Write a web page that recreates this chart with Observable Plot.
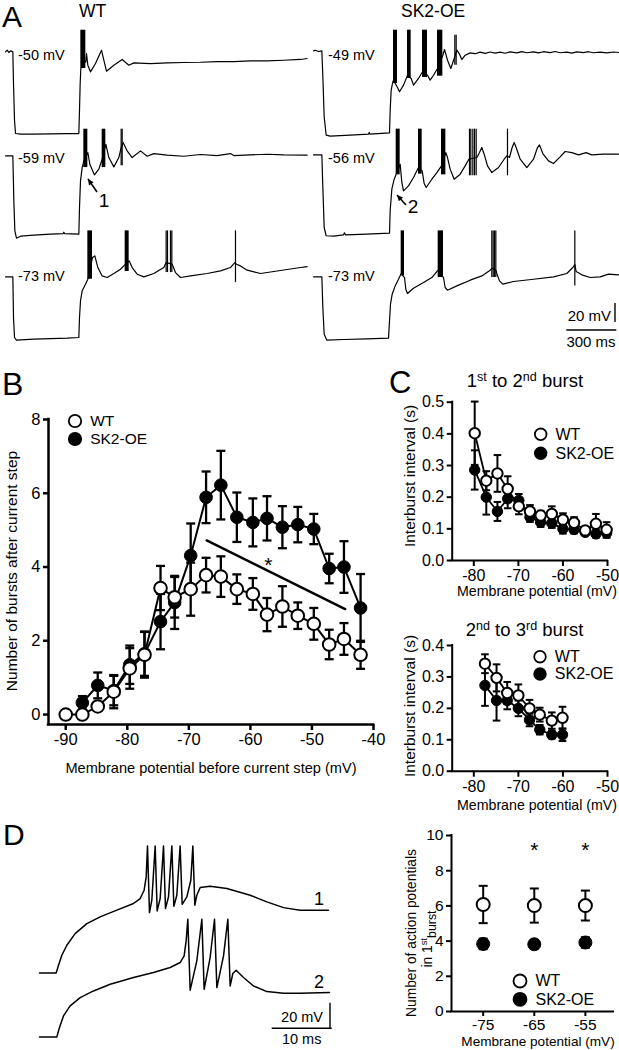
<!DOCTYPE html>
<html><head><meta charset="utf-8">
<script src="https://cdn.jsdelivr.net/npm/d3@7"></script>
<script src="https://cdn.jsdelivr.net/npm/@observablehq/plot@0.6"></script>
<style>
body{margin:0;background:#fff;}
#fig{position:relative;width:619px;height:1050px;background:#fff;font-family:"Liberation Sans",Arial,sans-serif;color:#000;overflow:hidden}
.t{position:absolute;white-space:nowrap;line-height:1;}
.t sup{font-size:0.68em;vertical-align:0.5em;line-height:0}
.t sub{font-size:0.9em;vertical-align:-0.3em;line-height:0}
.p{position:absolute}
</style></head><body><div id="fig"></div><script>
// ---------------- DATA ----------------
// Panel A traces: [time (ms), membrane potential (mV)]
const wt50Line = [[0,-50],[10,-48.2],[20,-50.7],[30,-49],[44,-50],[48,-83.3],[54,-121.8],[60,-135.8],[90,-136.5],[170,-136.5],[270,-136.1],[370,-135.8],[440,-135.8],[444,-111.3],[448,-83.3],[452,-67.5],[482,-60],[486,-51.8],[494,-64],[510,-71],[540,-62.3],[576,-48.3],[590,-58.8],[606,-70.3],[650,-64],[700,-58],[740,-64],[770,-61.6],[870,-62.3],[970,-61.6],[1070,-61.2],[1170,-60.9],[1270,-60.2],[1370,-60.2],[1470,-59.5],[1570,-59.5],[1670,-58.8],[1770,-58],[1810,-57]];
const wt50Bursts = [[452,482,-67.5,-27.3]];
const wt50Spikes = [];
const wt59Line = [[0,-59],[44,-59],[50,-106.3],[56,-137.8],[66,-145.5],[90,-143.4],[170,-142.3],[270,-141.3],[346,-140.6],[350,-139.2],[354,-140.6],[440,-141.3],[444,-113.3],[450,-85.3],[460,-71.3],[470,-64.3],[494,-55.5],[506,-67.8],[534,-79],[560,-73],[580,-62.5],[602,-46.8],[620,-60.8],[650,-70.6],[680,-60.8],[694,-50.3],[706,-45],[730,-53.8],[760,-60.8],[810,-53.8],[850,-59.4],[890,-56.6],[970,-58.3],[1070,-59.4],[1170,-57.6],[1270,-58.7],[1350,-56.6],[1370,-58.7],[1470,-58],[1570,-57.3],[1670,-58],[1810,-58.3]];
const wt59Bursts = [[470,494,-71.3,-31],[580,602,-71.3,-31]];
const wt59Spikes = [[694,-69.5,-31],[700,-69.5,-31]];
const wt73Line = [[0,-73],[44,-73],[48,-115.7],[54,-136.7],[66,-139.5],[170,-138.5],[270,-137.8],[370,-137.4],[440,-136.7],[444,-115.7],[450,-98.2],[460,-87.7],[480,-80.7],[494,-75.5],[522,-52.7],[536,-51],[554,-63.2],[580,-72],[610,-73.7],[650,-69.5],[690,-65],[720,-59.7],[742,-56.2],[760,-63.2],[790,-70.2],[830,-73],[890,-69.5],[950,-63.2],[964,-58],[1000,-59.7],[1020,-68.5],[1050,-73.7],[1110,-72],[1210,-69.5],[1290,-66.7],[1350,-63.2],[1376,-58],[1386,-59.7],[1410,-61.5],[1450,-66],[1530,-69.5],[1610,-67.4],[1690,-65.3],[1770,-63.2],[1810,-62.2]];
const wt73Bursts = [[494,522,-75.5,-24.7],[718,742,-67.4,-24.7]];
const wt73Spikes = [[964,-68.5,-24.7],[972,-68.5,-24.7],[990,-68.5,-24.7],[998,-68.5,-24.7],[1380,-79,-24.7]];
const sk49Line = [[0,-49],[10,-48.3],[30,-49.7],[50,-49],[56,-76.3],[64,-118.3],[76,-137.6],[100,-138.6],[220,-137.6],[330,-136.5],[334,-134.7],[338,-136.5],[456,-135.1],[460,-111.3],[466,-90.3],[476,-81.6],[480,-80],[504,-87.5],[516,-92],[540,-85],[564,-74.6],[586,-78],[600,-85],[630,-78],[654,-71],[684,-74.6],[700,-79.8],[720,-74.6],[744,-67.6],[776,-53.6],[786,-47.6],[804,-58.8],[824,-67.6],[844,-57],[860,-48.3],[876,-52.5],[890,-58.1],[910,-53.6],[940,-51.1],[970,-52],[1000,-50.4],[1030,-51.6],[1060,-50.2],[1090,-51.4],[1120,-50.4],[1150,-51.5],[1180,-50.1],[1220,-51.1],[1250,-49.8],[1280,-51],[1320,-50],[1350,-51.2],[1380,-49.9],[1420,-50.8],[1450,-49.7],[1480,-51],[1520,-50.4],[1550,-51.3],[1580,-50],[1620,-50.9],[1650,-49.9],[1680,-51],[1720,-50.4],[1760,-51.1],[1800,-50.2],[1830,-50.7]];
const sk49Bursts = [[480,504,-83.3,-27.3],[564,586,-78,-27.3],[654,684,-77,-27.3],[744,776,-75.6,-27.3]];
const sk49Spikes = [[848,-64,-32.5],[856,-64,-32.5]];
const sk56Line = [[0,-56],[50,-56],[56,-90.3],[64,-132.3],[76,-141],[120,-141.4],[180,-140],[186,-137.9],[192,-140],[320,-139.3],[456,-138.3],[460,-114.8],[470,-92],[484,-81.6],[496,-76.3],[520,-65.8],[530,-85],[540,-93.8],[570,-88.6],[600,-79.8],[630,-69.3],[652,-72.8],[664,-86.1],[676,-90.3],[710,-81.6],[740,-74.6],[768,-67.6],[794,-53.6],[804,-58.8],[820,-71],[844,-81.6],[880,-76.3],[910,-67.6],[932,-60.6],[980,-58.8],[996,-53.6],[1010,-48.3],[1024,-55.3],[1044,-67.6],[1070,-74.6],[1110,-69.3],[1144,-60.6],[1160,-57],[1176,-58.8],[1192,-48.3],[1204,-43],[1216,-48.3],[1240,-60.6],[1280,-69.3],[1320,-60.6],[1344,-48.3],[1356,-45.5],[1376,-54.6],[1410,-62.3],[1440,-65.1],[1480,-58.1],[1510,-52.5],[1550,-53.6],[1590,-56],[1636,-53.6],[1670,-56],[1740,-55.3],[1830,-55.3]];
const sk56Bursts = [[496,520,-77,-29],[630,652,-76.3,-29],[768,794,-77,-29]];
const sk56Spikes = [[936,-78,-29],[944,-78,-29],[956,-78,-29],[966,-78,-29],[976,-78,-29],[1164,-78,-29]];
const sk73Line = [[0,-73],[50,-73],[56,-105.2],[64,-133.2],[80,-139.5],[180,-138.8],[320,-138.1],[450,-137.4],[456,-119.2],[462,-101.7],[472,-91.2],[490,-82.5],[510,-75.5],[526,-69.5],[546,-73.7],[554,-86],[564,-90.5],[600,-84.9],[660,-79],[710,-73.7],[740,-67.4],[748,-66],[780,-73.7],[790,-84.2],[804,-87],[860,-82.5],[940,-76.5],[1010,-72],[1060,-66],[1070,-64],[1094,-66],[1100,-69.5],[1116,-77.2],[1136,-80.7],[1200,-77.9],[1320,-75.5],[1440,-73],[1520,-69.5],[1556,-63.2],[1568,-60],[1576,-67.4],[1610,-70.9],[1660,-73.7],[1720,-73],[1770,-70.2],[1830,-70.9]];
const sk73Bursts = [[526,546,-72,-24.7],[748,780,-73.7,-24.7]];
const sk73Spikes = [[1070,-73.7,-24.7],[1078,-73.7,-24.7],[1086,-73.7,-24.7],[1094,-73.7,-24.7],[1568,-82.5,-24.7]];
const restLabelsWT = ["-50 mV","-59 mV","-73 mV"];
const restLabelsSK = ["-49 mV","-56 mV","-73 mV"];
const scaleBarA = {mV: 20, ms: 300};

// Panel B: bursts after current step
const bV = [-90,-87.3,-84.8,-82.2,-79.6,-77.2,-74.6,-72.3,-69.7,-67.2,-64.8,-62.2,-59.6,-57.3,-54.8,-52.3,-49.7,-47.2,-44.8,-42.1];
const bWT = [0,0,0.22,0.62,1.25,1.62,3.43,3.18,3.4,3.78,3.74,3.40,3.27,2.71,2.93,2.68,2.46,1.9,2.05,1.62];
const bWTerr = [0,0,0.1,0.45,0.55,0.62,0.6,0.55,0.72,0.47,0.55,0.4,0.43,0.45,0.55,0.36,0.43,0.4,0.43,0.38];
const bSKV = bV.slice(1);
const bSK = [0.32,0.79,0.65,1.35,1.65,2.52,3.04,4.31,5.89,6.22,5.35,5.21,5.32,5.08,5.15,5.03,3.96,4.0,2.89];
const bSKerr = [0.18,0.35,0.4,0.52,0.6,0.75,0.72,0.87,0.7,0.93,0.67,0.65,0.6,0.57,0.48,0.41,0.4,0.7,0.92];
const bSig = [[-67.1,4.72],[-44.6,2.86]];
const bStar = [[-57.1,4.15]];
const bTicksX = [-90,-80,-70,-60,-50,-40];
const bTicksY = [0,2,4,6,8];

// Panel C top: 1st to 2nd burst interval (s)
const c1V = [-79.8,-77.2,-74.7,-72.4,-69.9,-67.4,-65.0,-62.5,-60.0,-57.5,-55.0,-52.6,-50.2];
const c1WT = [0.402,0.252,0.275,0.226,0.171,0.155,0.142,0.147,0.129,0.119,0.095,0.116,0.097];
const c1WTerr = [0.1,0.03,0.058,0.04,0.025,0.02,0.015,0.024,0.02,0.018,0.01,0.031,0.024];
const c1SK = [0.286,0.2,0.155,0.195,0.19,0.137,0.121,0.118,0.1,0.098,0.089,0.084,0.087];
const c1SKerr = [0.062,0.055,0.03,0.03,0.02,0.015,0.015,0.015,0.015,0.012,0.01,0.012,0.015];
// Panel C bottom: 2nd to 3rd burst interval (s)
const c2V = [-77.5,-74.9,-72.5,-70.0,-67.5,-65.2,-62.5,-60.1];
const c2WT = [0.342,0.297,0.249,0.241,0.2,0.18,0.161,0.17];
const c2WTerr = [0.03,0.043,0.035,0.035,0.027,0.022,0.026,0.035];
const c2SK = [0.273,0.225,0.225,0.2,0.163,0.132,0.116,0.116];
const c2SKerr = [0.065,0.064,0.028,0.025,0.02,0.015,0.012,0.02];
const cTicksX = [-80,-70,-60,-50];
const c1TicksY = [0,0.1,0.2,0.3,0.4,0.5];
const c2TicksY = [0,0.1,0.2,0.3,0.4];

// Panel D traces: [time (ms), mV above pre-step level]
const d1Line = [[0,0],[2.78,0],[3.17,6],[3.72,13.8],[4.56,21.6],[5.94,30.7],[7.89,38.5],[10.11,43.8],[12.89,49],[15.67,54.2],[16.78,58.1],[17.44,64.6],[17.78,75],[18,99.2],[18.33,47.1],[18.72,56.8],[19.28,99.2],[19.61,48.4],[20.11,58.1],[20.67,99.2],[21,50.3],[21.5,59.4],[22.06,99.2],[22.39,52.1],[22.89,60.7],[23.44,99.2],[23.78,53.6],[24.56,59.4],[25.22,72.4],[25.56,99.2],[25.89,52.9],[26.22,60.7],[26.78,66.7],[28.44,67.7],[31.22,65.9],[35.11,60.7],[37.89,55.5],[40.67,51],[43.44,49],[48.17,49]];
const d2Line = [[0,0],[2.89,0],[3.33,7.3],[4,16.4],[5.11,24.2],[6.78,30.7],[9,35.9],[11.78,41.1],[15.67,46.4],[19,50.3],[21.78,54.2],[23.44,58.1],[24.11,63.3],[24.44,75],[24.72,91.9],[25.11,36.5],[26.22,59.4],[27.06,91.9],[27.44,37.2],[28.44,62],[29.17,91.9],[29.56,38.5],[30.67,63.3],[31.39,91.9],[31.78,39.8],[32.22,49.5],[32.78,52.1],[34,46.4],[35.67,39.8],[37.89,35.4],[40.67,34.1],[43.44,34.1],[48.33,34.6]];
const scaleBarD = {mV: 20, ms: 10};
// Panel D right: number of APs in 1st burst
const dV = [-75,-65,-55];
const dWT = [6.08,6.02,6.02];
const dWTerr = [1.06,0.97,0.85];
const dSK = [3.84,3.82,3.92];
const dSKerr = [0.3,0.25,0.3];
const dStars = [[-65,9.33],[-55,9.33]];
const dTicksX = [-75,-65,-55];
const dTicksY = [0,2,4,6,8,10];

// ---------------- HELPERS ----------------
const fig = document.getElementById("fig");
const FONT = '"Liberation Sans", Arial, sans-serif';
function place(node, left, top){ const d=document.createElement("div"); d.className="p"; d.style.left=left+"px"; d.style.top=top+"px"; d.appendChild(node); fig.appendChild(d); return d; }
function txt(html, x, y, size, anchor="start"){
  const d=document.createElement("div"); d.className="t"; d.innerHTML=html; d.style.fontSize=size+"px";
  d.style.left=x+"px"; d.style.top=(y-0.8465*size)+"px";
  if(anchor==="middle") d.style.transform="translateX(-50%)";
  if(anchor==="end") d.style.transform="translateX(-100%)";
  fig.appendChild(d); return d;
}
function vtxt(html, cx, cy, size){
  const d=document.createElement("div"); d.className="t"; d.innerHTML=html; d.style.fontSize=size+"px";
  d.style.left=cx+"px"; d.style.top=cy+"px"; d.style.transform="translate(-50%,-50%) rotate(-90deg)";
  fig.appendChild(d); return d;
}
function legend(x, y1, y2, r, size){
  const ns="http://www.w3.org/2000/svg";
  const s=document.createElementNS(ns,"svg"); s.setAttribute("width",619); s.setAttribute("height",1050);
  s.style.position="absolute"; s.style.left="0"; s.style.top="0"; s.style.overflow="visible";
  [[y1,"white"],[y2,"black"]].forEach(([y,f])=>{const c=document.createElementNS(ns,"circle"); c.setAttribute("cx",x); c.setAttribute("cy",y); c.setAttribute("r",r); c.setAttribute("fill",f); c.setAttribute("stroke","black"); c.setAttribute("stroke-width",1.8); s.appendChild(c);});
  fig.appendChild(s);
  txt("WT", x+r+9, y1+0.36*size, size); txt("SK2-OE", x+r+9, y2+0.36*size, size);
}
const baseStyle = {background:"transparent", overflow:"visible", maxWidth:"none", fontFamily: FONT};

// trace drawing (panel A)
const A_PX_MS = 1/6, A_PX_MV = 0.952;
function trace(line, bursts, spikes, left, restY, vrest, tmax){
  const top=vrest+55, bot=vrest-100;
  const p = Plot.plot({width:tmax*A_PX_MS, height:(top-bot)*A_PX_MV, margin:0,
    x:{domain:[0,tmax], axis:null}, y:{domain:[bot,top], axis:null}, style:baseStyle,
    marks:[
      Plot.line(line,{x:d=>d[0], y:d=>d[1], stroke:"black", strokeWidth:1.2, strokeLinejoin:"round"}),
      Plot.rect(bursts,{x1:d=>d[0], x2:d=>d[1], y1:d=>d[2], y2:d=>d[3], fill:"black"}),
      Plot.ruleX(spikes,{x:d=>d[0], y1:d=>d[1], y2:d=>d[2], stroke:"black", strokeWidth:1.2})
    ]});
  place(p, left, restY-55*A_PX_MV);
}
trace(wt50Line, wt50Bursts, wt50Spikes, 5, 51.7, -50, 1810);
trace(wt59Line, wt59Bursts, wt59Spikes, 5, 155, -59, 1810);
trace(wt73Line, wt73Bursts, wt73Spikes, 5, 276, -73, 1810);
trace(sk49Line, sk49Bursts, sk49Spikes, 313.3, 50.7, -49, 1830);
trace(sk56Line, sk56Bursts, sk56Spikes, 313.3, 154, -56, 1830);
trace(sk73Line, sk73Bursts, sk73Spikes, 313.3, 276, -73, 1830);

// D traces
const D_PX_MS = 6, D_PX_MV = 1.28;
function dtrace(line, left, baseY){
  const p = Plot.plot({width:48.5*D_PX_MS, height:110*D_PX_MV, margin:0,
    x:{domain:[0,48.5], axis:null}, y:{domain:[-5,105], axis:null}, style:baseStyle,
    marks:[Plot.line(line,{x:d=>d[0], y:d=>d[1], stroke:"black", strokeWidth:1.5, strokeLinejoin:"round"})]});
  place(p, left, baseY-105*D_PX_MV);
}
dtrace(d1Line, 39.3, 972.7);
dtrace(d2Line, 39.3, 1036);

// scatter/error plots
const capSym = {draw(ctx,size){const w=Math.sqrt(size/Math.PI); ctx.moveTo(-w,0); ctx.lineTo(w,0);}};
function series(xs, ys, es, open, o){
  const data = xs.map((x,i)=>({x, y:ys[i], e:es[i]}));
  const m = [
    Plot.ruleX(data,{x:"x", y1:d=>d.y-d.e, y2:d=>d.y+d.e, stroke:"black", strokeWidth:o.sw}),
    Plot.dot(data,{x:"x", y:d=>d.y+d.e, symbol:capSym, r:o.cap, stroke:"black", strokeWidth:o.sw}),
    Plot.dot(data,{x:"x", y:d=>d.y-d.e, symbol:capSym, r:o.cap, stroke:"black", strokeWidth:o.sw})
  ];
  if(o.line) m.push(Plot.line(data,{x:"x", y:"y", stroke:"black", strokeWidth:o.lw}));
  m.push(Plot.dot(data,{x:"x", y:"y", r:o.r, fill: open?"white":"black", stroke:"black", strokeWidth: open?2:1}));
  return m;
}
function chart(cfg){
  const {xDom,yDom,xTicks,yTicks,yFmt,W,H,mL,mR,mT,mB,aw,fs,xts=6,xtp=3,extra=[],sk,wt,o} = cfg;
  return Plot.plot({width:W, height:H, marginLeft:mL, marginRight:mR, marginTop:mT, marginBottom:mB,
    x:{domain:xDom}, y:{domain:yDom}, style:{...baseStyle, fontSize: fs+"px"},
    marks:[
      Plot.ruleY([yDom[0]],{stroke:"black", strokeWidth:aw, strokeLinecap:"square"}),
      Plot.ruleX([xDom[0]],{stroke:"black", strokeWidth:aw, strokeLinecap:"square"}),
      Plot.axisX({ticks:xTicks, tickSize:xts, tickPadding:xtp, tickFormat:d=>String(d), fontSize:fs, strokeWidth:aw, label:null}),
      Plot.axisY({ticks:yTicks, tickSize:5, tickPadding:3, tickFormat:yFmt, fontSize:fs, strokeWidth:aw, label:null}),
      ...extra,
      ...series(sk[0],sk[1],sk[2],false,o),
      ...series(wt[0],wt[1],wt[2],true,o)
    ]});
}
// B
place(chart({xDom:[-92.8,-40], yDom:[-0.27,8], xTicks:bTicksX, yTicks:bTicksY, yFmt:d=>String(d),
  W:380, H:380, mL:48, mR:7, mT:19, mB:56, aw:2.5, fs:16.5,
  extra:[Plot.line(bSig,{x:d=>d[0], y:d=>d[1], stroke:"black", strokeWidth:2.5}),
         Plot.text(bStar,{x:d=>d[0], y:d=>d[1], text:()=>"*", fontSize:21, lineAnchor:"middle", dy:4})],
  sk:[bSKV,bSK,bSKerr], wt:[bV,bWT,bWTerr], o:{sw:2.3, cap:4.5, r:6.3, lw:2, line:true}}), 0, 400);
// C top
place(chart({xDom:[-84.85,-50], yDom:[0,0.5], xTicks:cTicksX, yTicks:c1TicksY, yFmt:d=>d.toFixed(1),
  W:229, H:200, mL:61.7, mR:12, mT:11.7, mB:30, aw:2, fs:16,
  sk:[c1V,c1SK,c1SKerr], wt:[c1V,c1WT,c1WTerr], o:{sw:2, cap:3.8, r:5.2, lw:1.8, line:true}}), 390, 390);
// C bottom
place(chart({xDom:[-84.85,-50], yDom:[0,0.4], xTicks:cTicksX, yTicks:c2TicksY, yFmt:d=>d.toFixed(1),
  W:229, H:170, mL:61.7, mR:12, mT:15, mB:29.3, aw:2, fs:16,
  sk:[c2V,c2SK,c2SKerr], wt:[c2V,c2WT,c2WTerr], o:{sw:2, cap:3.8, r:5.2, lw:1.8, line:true}}), 390, 630);
// D right
place(chart({xDom:[-81.2,-49.5], yDom:[0,10], xTicks:dTicksX, yTicks:dTicksY, yFmt:d=>String(d),
  W:229, H:230, mL:61, mR:6, mT:15, mB:39, aw:2, fs:15.5, xts:5, xtp:2,
  extra:[Plot.text(dStars,{x:d=>d[0], y:d=>d[1], text:()=>"*", fontSize:21, lineAnchor:"middle", dy:3})],
  sk:[dV,dSK,dSKerr], wt:[dV,dWT,dWTerr], o:{sw:2, cap:4.5, r:6.5, lw:0, line:false}}), 390, 820);

// ---------------- TEXT & ANNOTATIONS ----------------
txt("A", 2, 27, 30); txt("B", 2, 395, 32); txt("C", 389, 393, 31); txt("D", 3, 845, 30);
txt("WT", 79, 18, 17.5); txt("SK2-OE", 401, 18, 17.5);
[60,163,281].forEach((y,i)=>{ txt(restLabelsWT[i], 18, y, 14.5); txt(restLabelsSK[i], 328, y, 14.5); });
txt("1", 104, 207, 19, "middle"); txt("2", 413, 213, 19, "middle");
txt(scaleBarA.mV+" mV", 611, 321, 15, "end"); txt(scaleBarA.ms+" ms", 591, 347, 15, "middle");
txt("Membrane potential before current step (mV)", 211, 773, 14.6, "middle");
vtxt("Number of bursts after current step", 12, 571, 15.5);
txt("1<sup>st</sup> to 2<sup>nd</sup> burst", 466.7, 388, 18.5);
txt("2<sup>nd</sup> to 3<sup>rd</sup> burst", 465.7, 636.7, 18.5);
txt("Membrane potential (mV)", 537, 596, 14.2, "middle");
txt("Membrane potential (mV)", 537, 810, 14.2, "middle");
vtxt("Interburst interval (s)", 410, 476, 15.5);
vtxt("Interburst interval (s)", 410, 706, 15.5);
vtxt("Number of action potentials", 411.7, 933, 13.8);
vtxt("in 1<sup>st</sup><sub>burst</sub>", 428.3, 939, 13.8);
txt("Membrane potential (mV)", 538, 1047, 13.6, "middle");
txt("1", 319, 905, 18, "middle"); txt("2", 319, 988, 18, "middle");
txt(scaleBarD.mV+" mV", 323, 1022, 14.5, "end"); txt(scaleBarD.ms+" ms", 301.7, 1044, 14.5, "middle");
legend(75, 421, 439, 6.2, 15.5);
legend(540.7, 434.3, 453.3, 5.8, 16);
legend(540, 656.7, 674, 5.8, 16);
legend(520, 981, 999.3, 6.5, 16);

// overlay: scale bars and arrows
(function(){
  const ns="http://www.w3.org/2000/svg";
  const s=document.createElementNS(ns,"svg"); s.setAttribute("width",619); s.setAttribute("height",1050);
  s.style.position="absolute"; s.style.left="0"; s.style.top="0";
  const L=(x1,y1,x2,y2,w)=>{const l=document.createElementNS(ns,"line"); l.setAttribute("x1",x1);l.setAttribute("y1",y1);l.setAttribute("x2",x2);l.setAttribute("y2",y2);l.setAttribute("stroke","black");l.setAttribute("stroke-width",w);s.appendChild(l);};
  // A scale bar
  const aH = scaleBarA.ms*A_PX_MS, aV = scaleBarA.mV*A_PX_MV;
  L(616.3-aH,330,616.3,330,1.4); L(615,322-aV,615,322,1.4);
  // D scale bar
  const dH = scaleBarD.ms*D_PX_MS, dVv = scaleBarD.mV*D_PX_MV;
  L(331.7-dH,1028.3,331.7,1028.3,1.4); L(330,1028.3-dVv,330,1028.3,1.4);
  // arrows
  const arrow=(tx,ty,hx,hy)=>{ L(tx,ty,hx,hy,1.6); const a=Math.atan2(hy-ty,hx-tx), len=6.5, sp=0.45;
    const p=document.createElementNS(ns,"polygon");
    p.setAttribute("points",`${hx},${hy} ${hx-len*Math.cos(a-sp)},${hy-len*Math.sin(a-sp)} ${hx-len*Math.cos(a+sp)},${hy-len*Math.sin(a+sp)}`);
    p.setAttribute("fill","black"); s.appendChild(p); };
  arrow(97,192,88,179); arrow(406,205,397,195);
  fig.appendChild(s);
})();
</script></body></html>
